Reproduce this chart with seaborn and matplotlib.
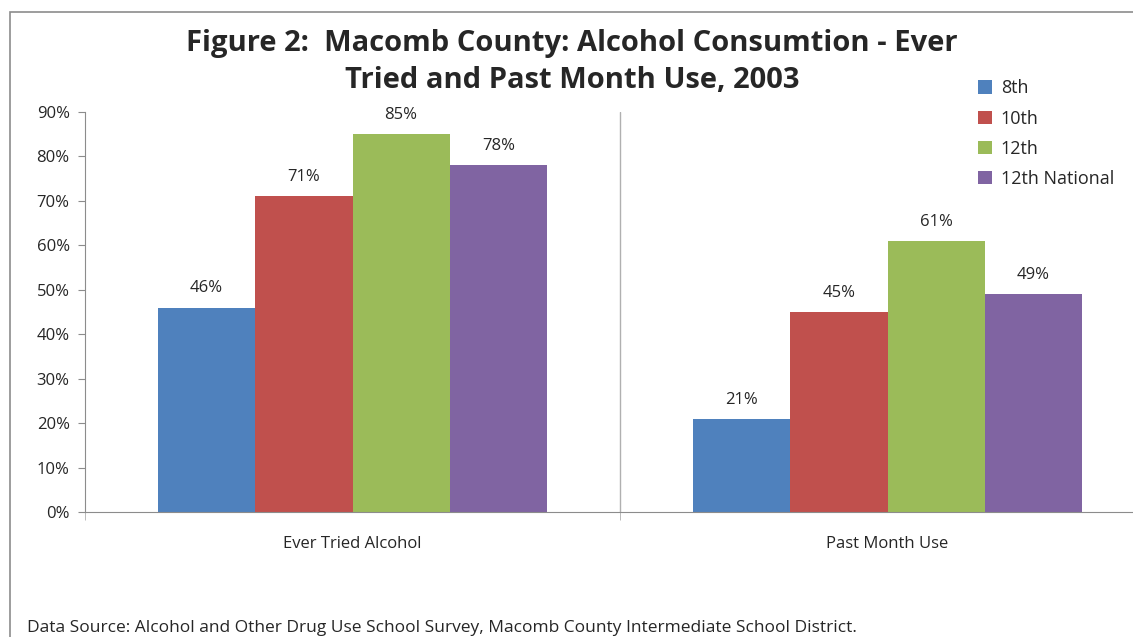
import matplotlib
matplotlib.use("Agg")
import matplotlib.pyplot as plt
import matplotlib.patches as mpatches
import pandas as pd
import seaborn as sns
from matplotlib.ticker import PercentFormatter

categories = ["Ever Tried Alcohol", "Past Month Use"]
grades = ["8th", "10th", "12th", "12th National"]
values_8th = [46, 21]
values_10th = [71, 45]
values_12th = [85, 61]
values_national = [78, 49]
colors = ["#4F81BD", "#C0504D", "#9BBB59", "#8064A2"]

rows = []
for grade, vals in zip(grades, [values_8th, values_10th, values_12th, values_national]):
    for cat, v in zip(categories, vals):
        rows.append({"category": cat, "grade": grade, "value": v})
df = pd.DataFrame(rows)

sns.set_style("white")
plt.rcParams["font.family"] = ["Open Sans", "DejaVu Sans"]

fig = plt.figure(figsize=(11.33, 6.37), dpi=100)
# outer chart border
fig.patches.append(mpatches.Rectangle((10 / 1133, -0.05), 1.1, 1 - 12 / 637 + 0.05,
                                      transform=fig.transFigure, fill=False,
                                      edgecolor="#8c8c8c", linewidth=1.2))

ax = fig.add_axes([85 / 1133, 1 - 512 / 637, 1070 / 1133, 400 / 637])
sns.barplot(data=df, x="category", y="value", hue="grade", palette=colors,
            width=0.727, saturation=1, linewidth=0, ax=ax, legend=True)

ax.set_ylim(0, 90)
ax.set_xlim(-0.5, 1.5)
ax.set_yticks(range(0, 91, 10))
ax.yaxis.set_major_formatter(PercentFormatter(decimals=0))
ax.set_xticks([-0.5, 0.5], minor=True)
ax.set_xlabel("")
ax.set_ylabel("")
ax.axvline(0.5, color="#b0b0b0", linewidth=1)
for s in ["top", "right"]:
    ax.spines[s].set_visible(False)
for s in ["left", "bottom"]:
    ax.spines[s].set_color("#8c8c8c")
ax.tick_params(axis="y", left=True, length=5, color="#8c8c8c", labelsize=12, pad=6)
ax.tick_params(axis="x", which="major", bottom=False, labelsize=12, pad=14)
ax.tick_params(axis="x", which="minor", bottom=True, length=6, color="#b0b0b0")

for container in ax.containers:
    ax.bar_label(container, fmt="%d%%", padding=8, fontsize=12)

handles, labels = ax.get_legend_handles_labels()
ax.legend_.remove()
fig.legend(handles, labels, loc="upper left", bbox_to_anchor=(962 / 1133, 1 - 63 / 637),
           frameon=False, fontsize=13, handlelength=0.75, handleheight=0.75,
           labelspacing=0.68, handletextpad=0.5)

fig.text(572 / 1133, 1 - 62 / 637, "Figure 2:  Macomb County: Alcohol Consumtion - Ever\nTried and Past Month Use, 2003",
         ha="center", va="center", fontsize=21, fontweight="bold", linespacing=1.35)

fig.text(27 / 1133, 1 - 628 / 637, "Data Source: Alcohol and Other Drug Use School Survey, Macomb County Intermediate School District.",
         ha="left", va="center", fontsize=12.5)

fig.savefig("out.png", dpi=100)
